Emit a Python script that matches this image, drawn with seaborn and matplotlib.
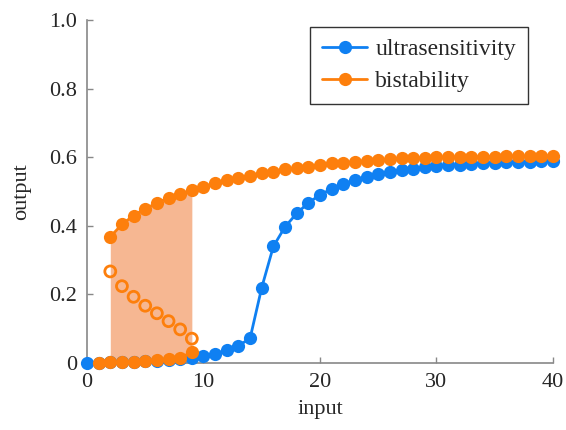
import matplotlib
matplotlib.use("Agg")
import matplotlib.pyplot as plt
import seaborn as sns
import numpy as np
import pandas as pd

# ---- data ----
x_blue = list(range(0, 41))
ultrasensitivity = [0.0, 0.001, 0.002, 0.003, 0.004, 0.005, 0.007, 0.009, 0.011, 0.014,
                    0.02, 0.026, 0.038, 0.05, 0.072, 0.22, 0.34, 0.397, 0.436, 0.467,
                    0.49, 0.508, 0.522, 0.534, 0.543, 0.55, 0.557, 0.562, 0.566, 0.57,
                    0.573, 0.576, 0.578, 0.58, 0.582, 0.583, 0.585, 0.586, 0.587, 0.588, 0.589]

x_upper = list(range(2, 41))
bistable_upper = [0.368, 0.404, 0.43, 0.45, 0.466, 0.482, 0.492, 0.504, 0.514, 0.524,
                  0.534, 0.54, 0.546, 0.553, 0.558, 0.565, 0.569, 0.572, 0.577, 0.582,
                  0.584, 0.587, 0.59, 0.592, 0.594, 0.597, 0.598, 0.599, 0.6, 0.6,
                  0.601, 0.601, 0.602, 0.602, 0.603, 0.603, 0.603, 0.604, 0.604]

x_lower = list(range(1, 10))
bistable_lower = [0.001, 0.002, 0.003, 0.004, 0.006, 0.008, 0.011, 0.016, 0.031]

x_unstable = list(range(2, 10))
bistable_unstable = [0.267, 0.224, 0.193, 0.167, 0.145, 0.122, 0.098, 0.071]

x_ticks = [0, 10, 20, 30, 40]
y_ticks = [0, 0.2, 0.4, 0.6, 0.8, 1.0]
y_ticklabels = ["0", "0.2", "0.4", "0.6", "0.8", "1.0"]

BLUE = "#0f80f2"
ORANGE = "#fd7f0c"
FILL = "#f6b792"

sns.set_style("white")
plt.rcParams["font.family"] = ["Liberation Serif", "DejaVu Serif"]

fig = plt.figure(figsize=(5.66, 4.30), dpi=100)
ax = fig.add_axes([0.1537, 0.1558, 0.977 - 0.1537, 0.9535 - 0.1558])

df_blue = pd.DataFrame({"input": x_blue, "output": ultrasensitivity})
df_up = pd.DataFrame({"input": x_upper, "output": bistable_upper})
df_low = pd.DataFrame({"input": x_lower, "output": bistable_lower})
df_uns = pd.DataFrame({"input": x_unstable, "output": bistable_unstable})

# shaded bistable region
n_fill = len(x_unstable)
ax.fill_between(x_upper[:n_fill], 0, bistable_upper[:n_fill], color=FILL, lw=0, zorder=1)

mk = dict(marker="o", markersize=9.5, markeredgewidth=0, linewidth=2.0, clip_on=False)
sns.lineplot(data=df_blue, x="input", y="output", color=BLUE, ax=ax,
             label="ultrasensitivity", zorder=3, **mk)
sns.lineplot(data=df_low, x="input", y="output", color=ORANGE, ax=ax,
             zorder=4, **mk)
sns.lineplot(data=df_up, x="input", y="output", color=ORANGE, ax=ax,
             label="bistability", zorder=4, **mk)
sns.scatterplot(data=df_uns, x="input", y="output", ax=ax, s=62,
                facecolor="none", edgecolor=ORANGE, linewidth=2.0, zorder=4)

ax.set_xlim(0, 40)
ax.set_ylim(0, 1.0)
ax.set_xticks(x_ticks)
ax.set_yticks(y_ticks)
ax.set_yticklabels(y_ticklabels)
ax.tick_params(direction="in", length=4, width=1, color="#888888",
               labelsize=16, pad=7, bottom=True, left=True)
ax.set_xlabel("input", fontsize=16, labelpad=6)
ax.set_ylabel("output", fontsize=16, labelpad=13)

for s in ["top", "right"]:
    ax.spines[s].set_visible(False)
for s in ["left", "bottom"]:
    ax.spines[s].set_color("#888888")
    ax.spines[s].set_linewidth(1.2)

leg = ax.legend(loc="upper right", bbox_to_anchor=(0.946, 0.98), borderaxespad=0,
                fontsize=17, frameon=True, fancybox=False, edgecolor="black",
                handlelength=1.9, handletextpad=0.35, borderpad=0.5, labelspacing=0.45)
leg.get_frame().set_linewidth(1.0)

fig.savefig("out.png", dpi=100)
